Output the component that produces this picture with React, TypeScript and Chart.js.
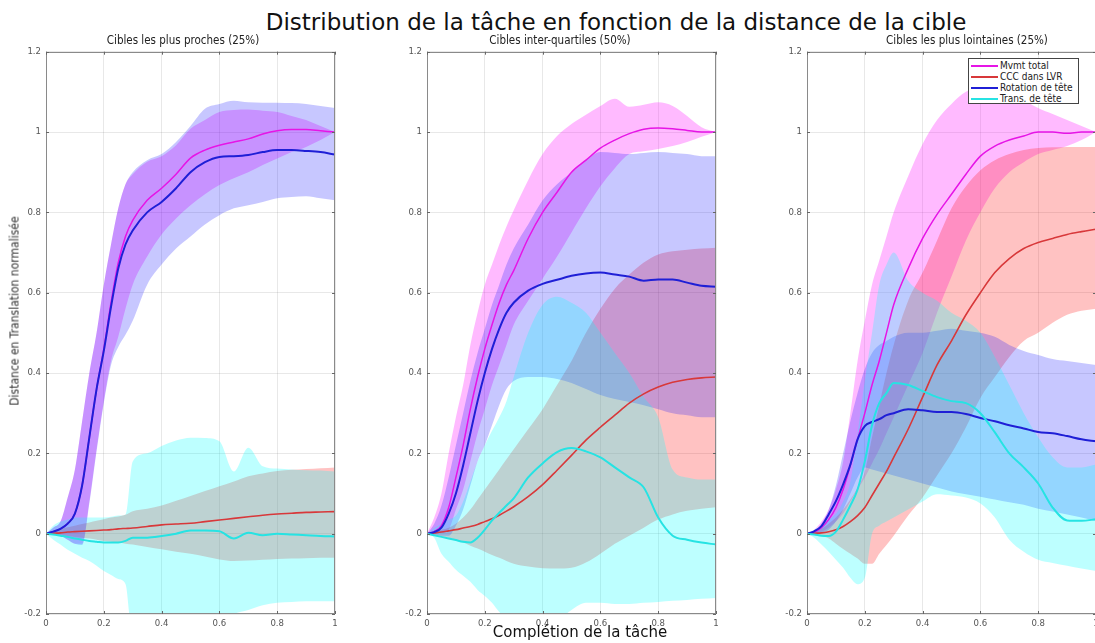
import React, { useEffect, useRef } from 'react';
import { Chart, registerables } from 'chart.js';

Chart.register(...registerables);

// ---------- data ----------
const X = [0, 0.025, 0.05, 0.075, 0.1, 0.125, 0.15, 0.175, 0.2, 0.225, 0.25, 0.275, 0.3, 0.35, 0.4, 0.45, 0.5, 0.55, 0.6, 0.65, 0.7, 0.75, 0.8, 0.85, 0.9, 0.95, 1];
const X_TICKS = [0, 0.2, 0.4, 0.6, 0.8, 1];
const Y_TICKS = [-0.2, 0, 0.2, 0.4, 0.6, 0.8, 1, 1.2];

const SERIES_LABELS = ['Mvmt total', 'CCC dans LVR', 'Rotation de tête', 'Trans. de tête'];
const PANEL_TITLES = ['Cibles les plus proches (25%)', 'Cibles inter-quartiles (50%)', 'Cibles les plus lointaines (25%)'];

// Panel 1 : Cibles les plus proches
const p1MvmtMean = [0, .005, .012, .025, .05, .12, .24, .36, .46, .575, .675, .74, .78, .83, .86, .895, .935, .955, .967, .975, .983, .995, 1.003, 1.006, 1.006, 1.003, 1.0];
const p1MvmtUp = [0, .015, .03, .09, .16, .28, .4, .5, .62, .72, .81, .87, .895, .926, .94, .967, 1.008, 1.03, 1.05, 1.055, 1.056, 1.053, 1.05, 1.04, 1.03, 1.015, 1.0];
const p1MvmtLo = [0, -.002, -.005, -.015, -.025, -.025, .08, .21, .33, .43, .49, .56, .62, .69, .745, .785, .818, .845, .868, .885, .9, .918, .934, .95, .963, .98, 1.0];
const p1CccMean = [0, .001, .002, .004, .005, .006, .007, .008, .009, .01, .012, .013, .014, .018, .022, .024, .026, .03, .034, .038, .042, .046, .049, .051, .053, .054, .055];
const p1CccUp = [0, .006, .012, .016, .02, .024, .028, .032, .036, .04, .043, .047, .056, .062, .07, .082, .094, .106, .118, .13, .143, .15, .156, .159, .161, .163, .165];
const p1CccLo = [0, -.002, -.004, -.006, -.008, -.01, -.012, -.015, -.018, -.02, -.022, -.025, -.027, -.033, -.039, -.045, -.05, -.057, -.064, -.068, -.067, -.065, -.063, -.062, -.061, -.06, -.06];
const p1RotMean = [0, .005, .012, .025, .05, .12, .24, .36, .455, .565, .66, .72, .755, .8, .826, .86, .9, .925, .938, .94, .943, .95, .955, .955, .953, .95, .944];
const p1RotUp = [0, .015, .03, .09, .16, .28, .4, .5, .62, .72, .81, .87, .9, .93, .945, .975, 1.015, 1.058, 1.07, 1.078, 1.074, 1.073, 1.073, 1.072, 1.07, 1.065, 1.06];
const p1RotLo = [0, -.002, -.005, -.015, -.025, -.028, .075, .205, .325, .42, .465, .495, .53, .62, .67, .71, .74, .77, .793, .81, .818, .826, .835, .838, .84, .835, .83];
const p1TransMean = [0, -.002, -.005, -.008, -.012, -.015, -.018, -.02, -.022, -.022, -.022, -.018, -.01, -.01, -.006, 0, .008, .008, .006, -.012, .002, -.004, 0, -.002, -.004, -.006, -.007];
const p1TransUp = [0, .02, .03, .035, .04, .04, .04, .04, .04, .042, .045, .048, .18, .2, .218, .232, .239, .238, .23, .155, .214, .168, .162, .16, .158, .157, .155];
const p1TransLo = [0, -.015, -.027, -.04, -.05, -.06, -.068, -.08, -.093, -.103, -.113, -.125, -.26, -.26, -.26, -.26, -.26, -.24, -.22, -.2, -.19, -.178, -.172, -.17, -.168, -.168, -.168];

// Panel 2 : Cibles inter-quartiles
const p2MvmtMean = [0, .005, .02, .065, .14, .22, .31, .39, .46, .52, .575, .62, .655, .735, .8, .85, .9, .93, .96, .98, .996, 1.007, 1.01, 1.008, 1.004, 1.0, 1.0];
const p2MvmtUp = [0, .04, .1, .2, .29, .37, .47, .55, .62, .67, .72, .765, .805, .88, .945, .99, 1.02, 1.043, 1.065, 1.083, 1.063, 1.068, 1.074, 1.065, 1.04, 1.012, 1.0];
const p2MvmtLo = [0, 0, .002, .01, .06, .11, .18, .25, .31, .37, .42, .47, .52, .58, .635, .69, .75, .81, .865, .91, .945, .952, .958, .965, .975, .988, 1.0];
const p2CccMean = [0, .002, .004, .007, .01, .014, .018, .023, .03, .037, .046, .056, .067, .092, .122, .158, .195, .233, .265, .295, .325, .348, .365, .377, .384, .388, .39];
const p2CccUp = [0, .005, .01, .015, .025, .04, .06, .085, .11, .135, .16, .185, .21, .26, .31, .37, .43, .5, .56, .61, .645, .675, .695, .703, .707, .71, .712];
const p2CccLo = [0, -.003, -.007, -.01, -.015, -.022, -.03, -.037, -.045, -.053, -.06, -.068, -.075, -.082, -.086, -.087, -.085, -.072, -.05, -.025, -.005, .015, .035, .048, .057, .062, .066];
const p2RotMean = [0, .004, .015, .05, .1, .17, .25, .33, .4, .46, .51, .55, .575, .605, .622, .632, .642, .648, .65, .645, .64, .63, .633, .633, .625, .617, .615];
const p2RotUp = [0, .025, .07, .14, .22, .3, .38, .45, .51, .57, .62, .67, .71, .77, .83, .87, .9, .93, .95, .948, .945, .948, .95, .948, .945, .94, .94];
const p2RotLo = [0, -.002, -.005, -.005, .02, .06, .12, .18, .22, .27, .32, .36, .38, .39, .39, .385, .375, .36, .345, .335, .328, .32, .31, .3, .295, .29, .29];
const p2TransMean = [0, -.004, -.008, -.012, -.016, -.02, -.022, -.01, .01, .033, .052, .07, .088, .14, .175, .203, .213, .205, .19, .165, .14, .115, .04, -.005, -.015, -.022, -.027];
const p2TransUp = [0, .015, .025, .035, .045, .08, .13, .18, .22, .256, .29, .33, .39, .5, .57, .59, .575, .55, .5, .45, .4, .34, .29, .16, .14, .135, .135];
const p2TransLo = [0, -.01, -.05, -.07, -.09, -.105, -.12, -.14, -.155, -.172, -.195, -.21, -.22, -.24, -.24, -.22, -.19, -.172, -.172, -.175, -.175, -.172, -.17, -.167, -.165, -.162, -.16];

// Panel 3 : Cibles les plus lointaines
const p3MvmtMean = [0, .004, .015, .035, .065, .11, .17, .235, .3, .37, .43, .5, .57, .66, .735, .795, .845, .895, .94, .965, .98, .99, 1.0, 1.0, .997, 1.0, 1.0];
const p3MvmtUp = [0, .01, .03, .06, .11, .18, .3, .43, .53, .62, .68, .74, .8, .89, .97, 1.03, 1.07, 1.1, 1.11, 1.11, 1.1, 1.08, 1.06, 1.045, 1.03, 1.015, 1.0];
const p3MvmtLo = [0, .001, .005, .015, .03, .05, .08, .11, .14, .175, .21, .25, .29, .37, .45, .55, .64, .73, .8, .86, .9, .925, .945, .955, .965, .98, 1.0];
const p3CccMean = [0, .001, .002, .005, .01, .018, .03, .045, .065, .095, .125, .155, .19, .26, .34, .42, .48, .545, .6, .65, .685, .71, .725, .735, .745, .752, .758];
const p3CccUp = [0, .005, .012, .025, .04, .06, .085, .115, .155, .24, .32, .4, .47, .58, .65, .73, .81, .865, .905, .93, .945, .955, .96, .962, .963, .963, .963];
const p3CccLo = [0, -.002, -.006, -.012, -.025, -.038, -.05, -.062, -.075, -.075, -.05, -.028, -.005, .045, .09, .145, .2, .265, .338, .39, .44, .48, .5, .525, .545, .555, .56];
const p3RotMean = [0, .006, .019, .048, .081, .123, .172, .235, .268, .278, .285, .295, .3, .31, .307, .303, .303, .298, .288, .28, .27, .262, .253, .25, .243, .235, .23];
const p3RotUp = [0, .008, .025, .06, .12, .2, .28, .35, .41, .45, .47, .48, .49, .5, .5, .505, .51, .505, .5, .49, .47, .455, .445, .435, .43, .425, .42];
const p3RotLo = [0, 0, .002, .01, .03, .06, .1, .14, .165, .16, .155, .15, .145, .135, .125, .115, .105, .098, .092, .085, .078, .072, .062, .055, .048, .04, .031];
const p3TransMean = [0, -.002, -.005, -.006, .005, .035, .07, .11, .18, .27, .325, .35, .375, .37, .355, .34, .33, .325, .3, .252, .2, .165, .125, .065, .033, .032, .036];
const p3TransUp = [0, .01, .02, .035, .05, .08, .13, .25, .38, .5, .62, .67, .7, .63, .6, .58, .55, .53, .5, .44, .37, .3, .24, .19, .165, .165, .172];
const p3TransLo = [0, -.01, -.027, -.045, -.065, -.085, -.11, -.126, -.11, .0, .02, .03, .04, .06, .08, .098, .095, .09, .075, .04, -.015, -.045, -.065, -.073, -.08, -.087, -.093];

const PANELS = [
  { mean: [p1MvmtMean, p1CccMean, p1RotMean, p1TransMean], up: [p1MvmtUp, p1CccUp, p1RotUp, p1TransUp], lo: [p1MvmtLo, p1CccLo, p1RotLo, p1TransLo] },
  { mean: [p2MvmtMean, p2CccMean, p2RotMean, p2TransMean], up: [p2MvmtUp, p2CccUp, p2RotUp, p2TransUp], lo: [p2MvmtLo, p2CccLo, p2RotLo, p2TransLo] },
  { mean: [p3MvmtMean, p3CccMean, p3RotMean, p3TransMean], up: [p3MvmtUp, p3CccUp, p3RotUp, p3TransUp], lo: [p3MvmtLo, p3CccLo, p3RotLo, p3TransLo] },
];

// ---------- styles ----------
const LINE_COLORS = ['#e615e6', '#d8383a', '#1f1fd6', '#26e3e3'];
const LINE_WIDTHS = [1.5, 1.6, 2, 2];
const BAND_COLORS = ['rgba(255,0,255,0.27)', 'rgba(255,0,0,0.24)', 'rgba(0,0,255,0.22)', 'rgba(0,255,255,0.26)'];

const FONT = "'DejaVu Sans Condensed', 'DejaVu Sans', sans-serif";
const AREA_LEFT = [46, 427, 807];
const AREA_TOP = 49;
const AREA_W = 289;
const AREA_H = 565;
const YAXIS_W = 32;
const XAXIS_H = 20;
const PAD_TOP = 8;
const PAD_RIGHT = 12;
const CANVAS_W = YAXIS_W + AREA_W + PAD_RIGHT;
const CANVAS_H = PAD_TOP + AREA_H + XAXIS_H;

const fmt = (v: number | string) => {
  const r = Math.round(Number(v) * 10) / 10;
  return String(r);
};

const boxPlugin = {
  id: 'matlabBox',
  afterDraw(chart: any) {
    const { ctx, chartArea: a, scales } = chart;
    ctx.save();
    ctx.strokeStyle = '#8a8a8a';
    ctx.lineWidth = 1;
    ctx.strokeRect(Math.round(a.left) + 0.5, Math.round(a.top) + 0.5, Math.round(a.right - a.left) - 1, Math.round(a.bottom - a.top) - 1);
    ctx.strokeStyle = '#666';
    ctx.beginPath();
    Y_TICKS.forEach((t) => {
      const y = Math.round(scales.y.getPixelForValue(t)) + 0.5;
      ctx.moveTo(a.left, y); ctx.lineTo(a.left + 3, y);
      ctx.moveTo(a.right - 3, y); ctx.lineTo(a.right, y);
    });
    X_TICKS.forEach((t) => {
      const x = Math.round(scales.x.getPixelForValue(t)) + 0.5;
      ctx.moveTo(x, a.bottom); ctx.lineTo(x, a.bottom - 3);
      ctx.moveTo(x, a.top); ctx.lineTo(x, a.top + 3);
    });
    ctx.stroke();
    ctx.restore();
  },
};

function Panel({ idx }: { idx: number }) {
  const ref = useRef<HTMLCanvasElement>(null);
  useEffect(() => {
    const p = PANELS[idx];
    const pts = (arr: number[]) => X.map((x, i) => ({ x, y: arr[i] }));
    const datasets: any[] = [];
    // bands: pairs (lower, upper filled to lower)
    for (let s = 0; s < 4; s++) {
      const ord = 20 - s;
      datasets.push({
        label: SERIES_LABELS[s] + ' min', data: pts(p.lo[s]), borderWidth: 0, borderColor: 'rgba(0,0,0,0)',
        pointRadius: 0, fill: false, order: ord, cubicInterpolationMode: 'monotone',
      });
      datasets.push({
        label: SERIES_LABELS[s] + ' max', data: pts(p.up[s]), borderWidth: 0, borderColor: 'rgba(0,0,0,0)',
        pointRadius: 0, fill: '-1', backgroundColor: BAND_COLORS[s], order: ord, cubicInterpolationMode: 'monotone',
      });
    }
    for (let s = 0; s < 4; s++) {
      datasets.push({
        label: SERIES_LABELS[s], data: pts(p.mean[s]), borderWidth: LINE_WIDTHS[s], borderColor: LINE_COLORS[s],
        pointRadius: 0, fill: false, order: 10 - s, cubicInterpolationMode: 'monotone',
      });
    }
    const tickFont = { family: FONT, size: 9.5 };
    const chart = new Chart(ref.current as HTMLCanvasElement, {
      type: 'line',
      data: { datasets },
      options: {
        animation: false,
        responsive: false,
        devicePixelRatio: 1,
        events: [],
        layout: { padding: { top: PAD_TOP, right: PAD_RIGHT, left: 0, bottom: 0 } },
        plugins: { legend: { display: false }, tooltip: { enabled: false }, title: { display: false } },
        scales: {
          x: {
            type: 'linear', min: 0, max: 1,
            ticks: { stepSize: 0.2, color: '#555', font: tickFont, padding: 4, maxRotation: 0, callback: fmt },
            grid: { color: 'rgba(0,0,0,0.09)', drawTicks: false },
            border: { display: false },
            afterFit: (s: any) => { s.height = XAXIS_H; },
          },
          y: {
            type: 'linear', min: -0.2, max: 1.2,
            ticks: { stepSize: 0.2, color: '#555', font: tickFont, padding: 5, callback: fmt },
            grid: { color: 'rgba(0,0,0,0.09)', drawTicks: false },
            border: { display: false },
            afterFit: (s: any) => { s.width = YAXIS_W; },
          },
        },
      } as any,
      plugins: [boxPlugin],
    });
    return () => chart.destroy();
  }, [idx]);
  return (
    <canvas
      ref={ref}
      width={CANVAS_W}
      height={CANVAS_H}
      style={{ position: 'absolute', left: AREA_LEFT[idx] - YAXIS_W, top: AREA_TOP - PAD_TOP, width: CANVAS_W, height: CANVAS_H }}
    />
  );
}

const TITLE_CENTERS = [183, 560, 967];

export default function App() {
  const txt: React.CSSProperties = { position: 'absolute', whiteSpace: 'nowrap', color: '#222' };
  return (
    <div style={{ position: 'absolute', left: 0, top: 0, width: 1095, height: 643, overflow: 'hidden', background: '#fff' }}>
      {[0, 1, 2].map((i) => <Panel key={i} idx={i} />)}
      <div style={{ ...txt, left: 616, top: 9, transform: 'translateX(-50%)', fontFamily: "'DejaVu Sans', sans-serif", fontSize: 23, lineHeight: '27px', color: '#111' }}>
        Distribution de la tâche en fonction de la distance de la cible
      </div>
      {PANEL_TITLES.map((t, i) => (
        <div key={t} style={{ ...txt, left: TITLE_CENTERS[i], top: 33, transform: 'translateX(-50%)', fontFamily: FONT, fontSize: 11.5, lineHeight: '14px' }}>{t}</div>
      ))}
      <div style={{ ...txt, left: 15, top: 311, transform: 'translate(-50%, -50%) rotate(-90deg)', fontFamily: FONT, fontSize: 12, lineHeight: '13px', color: '#333' }}>
        Distance en Translation normalisée
      </div>
      <div style={{ ...txt, left: 580, top: 623, transform: 'translateX(-50%)', fontFamily: "'DejaVu Sans', sans-serif", fontSize: 15, lineHeight: '18px', color: '#111' }}>
        Complétion de la tâche
      </div>
      <div style={{ position: 'absolute', left: 968, top: 58, width: 111, height: 46, boxSizing: 'border-box', border: '1px solid #444', background: '#fff', paddingTop: 1 }}>
        {SERIES_LABELS.map((l, i) => (
          <div key={l} style={{ display: 'flex', alignItems: 'center', height: 11 }}>
            <span style={{ display: 'inline-block', width: 27, height: 2, marginLeft: 2, marginRight: 2, background: LINE_COLORS[i] }} />
            <span style={{ fontFamily: FONT, fontSize: 10, lineHeight: '11px', color: '#222' }}>{l}</span>
          </div>
        ))}
      </div>
    </div>
  );
}
